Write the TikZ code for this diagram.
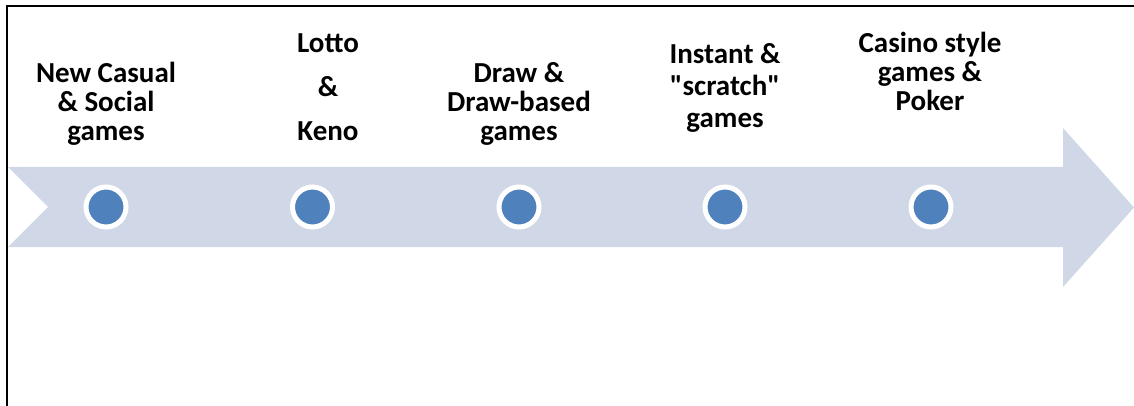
\documentclass[tikz,border=0pt]{standalone}
\usepackage{fontspec}
\setmainfont{Carlito}
\definecolor{bandfill}{HTML}{D0D8E8}
\definecolor{dotblue}{HTML}{4F81BD}
\begin{document}
\begin{tikzpicture}[x=1pt,y=-1pt,
  label/.style={font=\bfseries\fontsize{29}{29}\selectfont, align=center, inner sep=0pt, anchor=base},
  dot/.style={circle, fill=dotblue, draw=white, line width=5pt, minimum size=40pt, inner sep=0pt}]
  \useasboundingbox (0,0) rectangle (1134,406);
  % frame lines
  \draw[line width=2pt] (7,406) -- (7,6.5) -- (1134,6.5);
  % timeline band with notched tail and arrow head
  \fill[bandfill] (8,167) -- (1063,167) -- (1063,128) -- (1134,207.5) -- (1063,287)
    -- (1063,247) -- (8,247) -- (48,207) -- cycle;
  % milestones
  \foreach \n/\x in {d1/106, d2/312.5, d3/519, d4/725, d5/931}
    \node[dot] (\n) at (\x,207) {};
  % captions (each placed by the baseline of its last line)
  \node[label] (t1) at (106,141) {New Casual\\\& Social\\games};
  \node[label] (t2) at (328,141) {Lotto\\[15pt]\&\\[15pt]Keno};
  \node[label] (t3) at (519,141) {Draw \&\\Draw-based\\games};
  \node[label] (t4) at (725,128) {Instant \&\\[3pt]\textquotedbl scratch\textquotedbl\\[3pt]games};
  \node[label] (t5) at (930,111) {Casino style\\games \&\\Poker};
\end{tikzpicture}
\end{document}
